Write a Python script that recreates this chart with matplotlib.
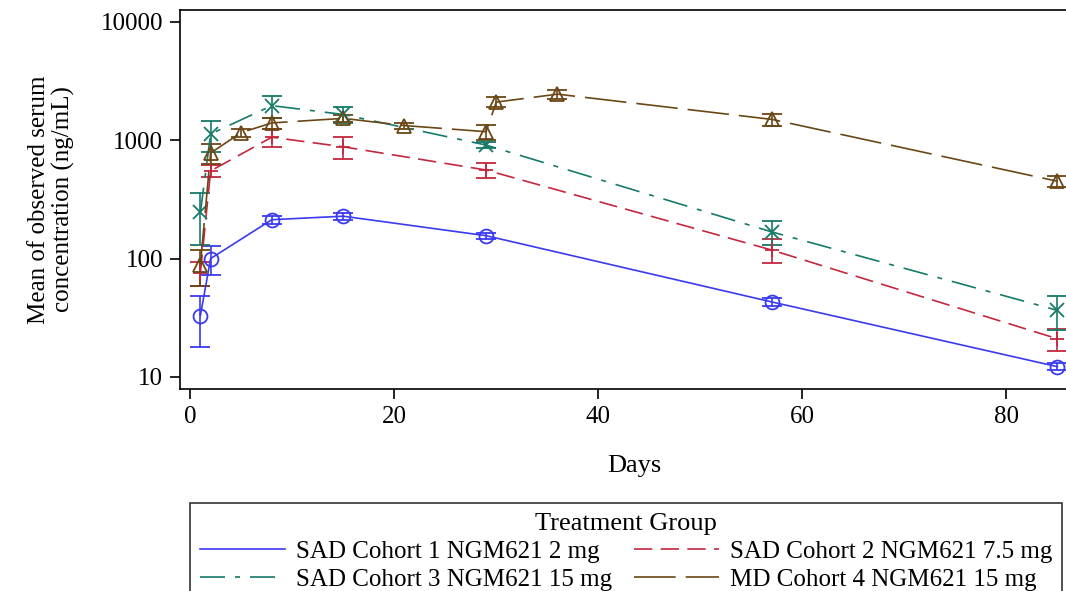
"""
Mean serum concentration of NGM621 per treatment group, log scale
"""

import matplotlib
matplotlib.use("Agg")
import matplotlib.pyplot as plt
from matplotlib.lines import Line2D

plt.rcParams['font.family'] = ['Liberation Serif', 'DejaVu Serif']
plt.rcParams['font.size'] = 18

# Data (mean and SD, ng/mL)
days_sad = [1, 2, 8, 15, 29, 57, 85]
days_md = [1, 2, 5, 8, 15, 21, 29, 30, 36, 57, 85]

c1_mean = [33, 100, 213, 228, 156, 43, 12.2]
c1_sd = [15, 28, 18, 16, 9, 3, 0.8]

c2_mean = [76, 550, 1060, 880, 560, 118, 21]
c2_sd = [17, 65, 190, 190, 80, 27, 4.5]

c3_mean = [245, 1130, 1960, 1650, 910, 168, 36.5]
c3_sd = [115, 330, 420, 240, 50, 38, 11.5]

c4_mean = [89, 780, 1160, 1400, 1530, 1330, 1180, 2100, 2450, 1500, 450]
c4_sd = [30, 150, 90, 150, 110, 80, 170, 200, 220, 170, 45]

labels = ["SAD Cohort 1 NGM621 2 mg", "SAD Cohort 2 NGM621 7.5 mg",
          "SAD Cohort 3 NGM621 15 mg", "MD Cohort 4 NGM621 15 mg"]
colors = ["#3a3af0", "#c3283e", "#167a68", "#6b4716"]
dashes = [None, (11, 5), (15, 6, 3, 6), (25, 6)]
markers = ["o", "+", "x", "^"]

series = [(days_sad, c1_mean, c1_sd), (days_sad, c2_mean, c2_sd),
          (days_sad, c3_mean, c3_sd), (days_md, c4_mean, c4_sd)]

fig = plt.figure(figsize=(10.66, 5.91), dpi=100)
ax = fig.add_axes([180 / 1066, 1 - 389 / 591, 908 / 1066, 379 / 591])

handles = []
for (x, m, s), col, dsh, mk, lab in zip(series, colors, dashes, markers, labels):
    eb = ax.errorbar(x, m, yerr=s, color=col, lw=1.2, marker=mk,
                     markersize=10, markerfacecolor='none',
                     markeredgewidth=1.3, capsize=7.5, capthick=1.2,
                     elinewidth=1.2)
    if dsh is not None:
        eb[0].set_dashes(dsh)
    h = Line2D([], [], color=col, lw=1.2)
    if dsh is not None:
        h.set_dashes(dsh)
    handles.append(h)

ax.set_yscale('log')
ax.set_ylim(7.9, 12600)
ax.set_xlim(-1, 88)
ax.set_yticks([10, 100, 1000, 10000])
ax.set_yticklabels(['10', '100', '1000', '10000'])
ax.minorticks_off()
ax.set_xticks([0, 20, 40, 60, 80])
ax.tick_params(direction='out', length=7, width=1.2, pad=5)
for sp in ax.spines.values():
    sp.set_linewidth(1.2)

ax.set_xlabel('Days', fontsize=19)
ax.xaxis.set_label_coords(0.5, -(455 - 389) / 379)
ax.set_ylabel('Mean of observed serum\nconcentration (ng/mL)', fontsize=18,
              linespacing=1.1)
ax.yaxis.set_label_coords((75 - 180) / 908, 0.5)

order = [0, 2, 1, 3]
leg = fig.legend([handles[i] for i in order], [labels[i] for i in order],
                 ncol=2, title='Treatment Group', loc='upper left',
                 bbox_to_anchor=(190 / 1066, 1 - 503 / 591),
                 fontsize=18, title_fontsize=19,
                 handlelength=3.4, handletextpad=0.45, columnspacing=0.85,
                 frameon=True, fancybox=False, edgecolor='black',
                 borderpad=0.4, labelspacing=0.22, borderaxespad=0)
leg.get_frame().set_linewidth(1.2)

fig.savefig('out.png', dpi=100)
